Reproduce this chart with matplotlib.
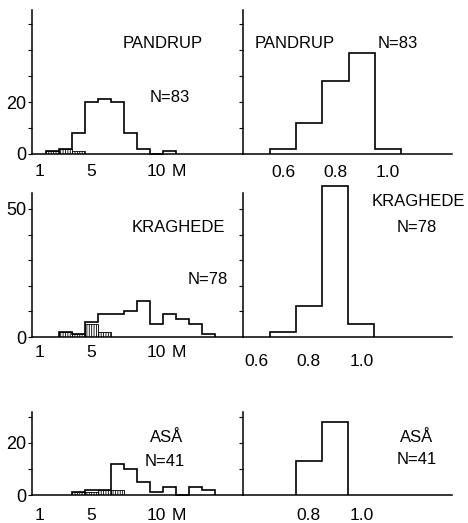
import numpy as np
import matplotlib
matplotlib.use("Agg")
import matplotlib.pyplot as plt

plt.rcParams['font.family'] = ['Liberation Sans', 'DejaVu Sans']
plt.rcParams['hatch.linewidth'] = 0.6

# ---- data: body length (M) histograms, width-1 bins centred on integers ----
pandrup_m_centers = [2, 3, 4, 5, 6, 7, 8, 9, 10, 11]
pandrup_m_counts = [1, 2, 8, 20, 21, 20, 8, 2, 0, 1]
pandrup_hatch_centers = [2, 3, 4]
pandrup_hatch_counts = [1, 2, 1]

kraghede_m_centers = [3, 4, 5, 6, 7, 8, 9, 10, 11, 12, 13, 14]
kraghede_m_counts = [2, 1, 6, 9, 9, 10, 14, 5, 9, 7, 5, 1]
kraghede_hatch_centers = [3, 4, 5, 6]
kraghede_hatch_counts = [2, 1, 5, 2]

asa_m_centers = [4, 5, 6, 7, 8, 9, 10, 11, 12, 13, 14]
asa_m_counts = [1, 2, 2, 12, 10, 5, 1, 3, 0, 3, 2]
asa_hatch_centers = [4, 5, 6, 7]
asa_hatch_counts = [1, 1, 2, 2]

# ---- data: ratio histograms, width-0.1 bins ----
pandrup_r_centers = [0.6, 0.7, 0.8, 0.9, 1.0]
pandrup_r_counts = [2, 12, 28, 39, 2]
kraghede_r_centers = [0.7, 0.8, 0.9, 1.0]
kraghede_r_counts = [2, 12, 59, 5]
asa_r_centers = [0.8, 0.9]
asa_r_counts = [13, 28]

left_ticks = [1, 5, 10, 11.77]
left_ticklabels = ["1", "5", "10", "M"]

W, H = 468, 523
fig = plt.figure(figsize=(W / 100, H / 100), dpi=100)


def rect(x0, x1, ytop, ybase):
    return [x0 / W, 1 - ybase / H, (x1 - x0) / W, (ybase - ytop) / H]


def style(ax):
    for s in ("top", "right"):
        ax.spines[s].set_visible(False)
    ax.spines["left"].set_linewidth(1.1)
    ax.spines["bottom"].set_linewidth(1.1)
    ax.tick_params(axis="y", direction="out", length=3, width=0.8, labelsize=13, pad=1)
    ax.tick_params(axis="x", length=0, labelsize=12.5)


def edges_from(centers, w):
    c = np.asarray(centers, float)
    return np.append(c - w / 2, c[-1] + w / 2)


def left_panel(ax, centers, counts, hc, hv, ylim, yt, ylabels, pad):
    ax.stairs(counts, edges_from(centers, 1.0), color="black", lw=1.2, baseline=0, clip_on=False)
    ax.bar(hc, hv, width=1.0, fill=False, hatch="|" * 7, edgecolor="black", lw=0.6)
    ax.set_xlim(0.46, 16.69)
    ax.set_ylim(0, ylim)
    ax.set_yticks(yt)
    ax.set_yticklabels(ylabels)
    ax.set_xticks(left_ticks)
    ax.set_xticklabels(left_ticklabels)
    ax.tick_params(axis="x", pad=pad)
    style(ax)


def right_panel(ax, centers, counts, xlim, ylim, yt, xt, pad):
    ax.stairs(counts, edges_from(centers, 0.1), color="black", lw=1.2, baseline=0, clip_on=False)
    ax.set_xlim(*xlim)
    ax.set_ylim(0, ylim)
    ax.set_yticks(yt)
    ax.set_yticklabels([])
    ax.set_xticks(xt)
    ax.set_xticklabels([f"{v:.1f}" for v in xt])
    ax.tick_params(axis="x", pad=pad)
    style(ax)


# top row
ax1 = fig.add_axes(rect(32, 243, 10, 154))
left_panel(ax1, pandrup_m_centers, pandrup_m_counts, pandrup_hatch_centers, pandrup_hatch_counts,
           55.4, [0, 10, 20, 30, 40, 50], ["0", "", "20", "", "", ""], 7)
ax2 = fig.add_axes(rect(243, 452, 10, 154))
right_panel(ax2, pandrup_r_centers, pandrup_r_counts, (0.447, 1.245), 55.4,
            [10, 20, 30, 40, 50], [0.6, 0.8, 1.0], 8)

# middle row
ax3 = fig.add_axes(rect(32, 243, 193, 337))
left_panel(ax3, kraghede_m_centers, kraghede_m_counts, kraghede_hatch_centers, kraghede_hatch_counts,
           56.2, [0, 10, 20, 30, 40, 50], ["0", "", "", "", "", "50"], 6)
ax4 = fig.add_axes(rect(243, 452, 193, 337))
right_panel(ax4, kraghede_r_centers, kraghede_r_counts, (0.5485, 1.346), 56.2,
            [10, 20, 30, 40, 50], [0.6, 0.8, 1.0], 12)

# bottom row
ax5 = fig.add_axes(rect(32, 243, 412, 495))
left_panel(ax5, asa_m_centers, asa_m_counts, asa_hatch_centers, asa_hatch_counts,
           31.9, [0, 10, 20, 30], ["0", "", "20", ""], 9)
ax6 = fig.add_axes(rect(243, 452, 412, 495))
right_panel(ax6, asa_r_centers, asa_r_counts, (0.5485, 1.346), 31.9,
            [10, 20, 30], [0.8, 1.0], 9)


def ftext(x, y, s):
    fig.text(x / W, 1 - y / H, s, fontsize=12, ha="center", va="center")


ftext(163, 43, "PANDRUP")
ftext(170, 97, "N=83")
ftext(295, 43, "PANDRUP")
ftext(398, 43, "N=83")
ftext(178, 228, "KRAGHEDE")
ftext(208, 280, "N=78")
ftext(418, 202, "KRAGHEDE")
ftext(417, 228, "N=78")
ftext(167, 438, "ASÅ")
ftext(165, 461, "N=41")
ftext(417, 438, "ASÅ")
ftext(417, 460, "N=41")

fig.savefig("out.png", dpi=100)
